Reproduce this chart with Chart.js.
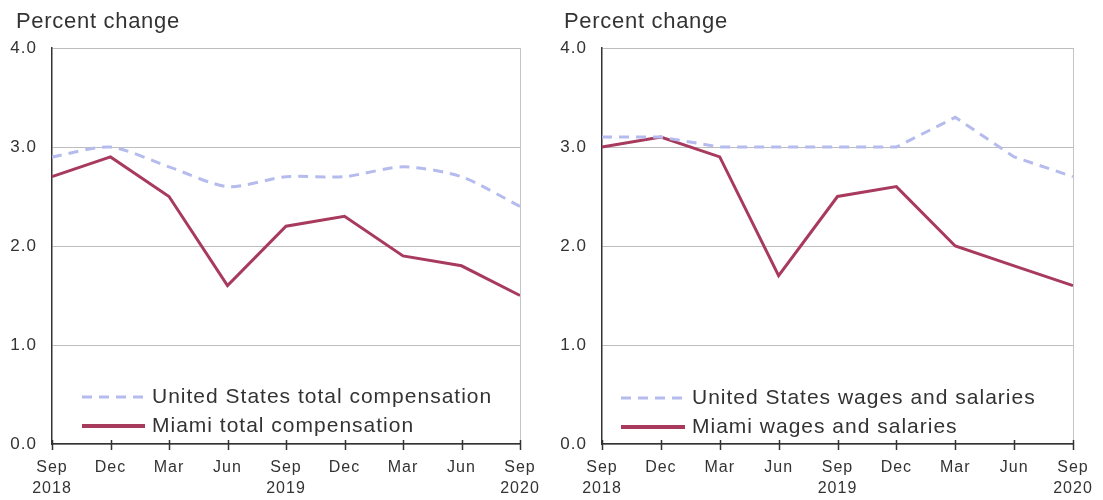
<!DOCTYPE html>
<html>
<head>
<meta charset="utf-8">
<script src="https://cdn.jsdelivr.net/npm/chart.js@4.4.1/dist/chart.umd.min.js"></script>
<style>
  html, body { margin: 0; padding: 0; background: #fff; }
  #wrap { position: relative; width: 1103px; height: 500px; overflow: hidden; }
  canvas { position: absolute; top: 0; }
  #c1 { left: 0; }
  #c2 { left: 550px; }
</style>
</head>
<body>
<div id="wrap">
  <canvas id="c1" width="550" height="500"></canvas>
  <canvas id="c2" width="553" height="500"></canvas>
</div>
<script>
// Quarterly 12-month percent changes, Sep 2018 – Sep 2020
const quarters = [['Sep', '2018'], 'Dec', 'Mar', 'Jun', ['Sep', '2019'], 'Dec', 'Mar', 'Jun', ['Sep', '2020']];
const usTotalComp    = [2.9, 3.0, 2.8, 2.6, 2.7, 2.7, 2.8, 2.7, 2.4];
const miamiTotalComp = [2.7, 2.9, 2.5, 1.6, 2.2, 2.3, 1.9, 1.8, 1.5];
const usWages        = [3.1, 3.1, 3.0, 3.0, 3.0, 3.0, 3.3, 2.9, 2.7];
const miamiWages     = [3.0, 3.1, 2.9, 1.7, 2.5, 2.6, 2.0, 1.8, 1.6];
const yTicks = [0, 1, 2, 3, 4];
const yTitle = 'Percent change';

const US_COLOR = '#b5bced';
const MIAMI_COLOR = '#a83a5e';
const TEXT_COLOR = '#333';
const FONT = '"Liberation Sans", Arial, sans-serif';

// Title, right frame edge, crossing x ticks and in-plot legend
const decorPlugin = {
  id: 'decor',
  beforeDraw(chart) {
    // slightly open tracking for the axis labels
    chart.ctx.letterSpacing = '1px';
  },
  afterDraw(chart, args, opts) {
    const ctx = chart.ctx;
    const area = chart.chartArea;
    const xs = chart.scales.x;
    ctx.save();

    // right edge of the frame
    ctx.strokeStyle = '#c4c4c4';
    ctx.lineWidth = 1;
    ctx.beginPath();
    ctx.moveTo(area.right + 0.5, area.top);
    ctx.lineTo(area.right + 0.5, area.bottom);
    ctx.stroke();

    // tick marks crossing the category axis
    ctx.strokeStyle = TEXT_COLOR;
    ctx.lineWidth = 1.5;
    xs.ticks.forEach((t, i) => {
      const px = Math.round(xs.getPixelForTick(i)) + 0.5;
      ctx.beginPath();
      ctx.moveTo(px, area.bottom - 4);
      ctx.lineTo(px, area.bottom + 6);
      ctx.stroke();
    });

    // axis title
    ctx.fillStyle = TEXT_COLOR;
    ctx.letterSpacing = '0.7px';
    ctx.font = '22px ' + FONT;
    ctx.textBaseline = 'alphabetic';
    ctx.textAlign = 'left';
    ctx.fillText(opts.title, opts.titleX, 28);

    // legend
    ctx.letterSpacing = '1px';
    ctx.font = '21px ' + FONT;
    ctx.textBaseline = 'middle';
    chart.data.datasets.forEach((ds, i) => {
      const y = opts.legendY[i];
      ctx.strokeStyle = ds.borderColor;
      ctx.lineWidth = ds.borderDash ? 3 : 4;
      ctx.setLineDash(ds.borderDash || []);
      ctx.beginPath();
      ctx.moveTo(opts.legendX0, y);
      ctx.lineTo(opts.legendX1, y);
      ctx.stroke();
      ctx.setLineDash([]);
      ctx.fillStyle = TEXT_COLOR;
      ctx.fillText(ds.label, opts.legendX1 + 7, y);
    });
    ctx.restore();
  }
};

function makeChart(canvasId, usData, miamiData, usLabel, miamiLabel, cfg) {
  return new Chart(document.getElementById(canvasId), {
    type: 'line',
    data: {
      labels: quarters,
      datasets: [
        {
          label: usLabel,
          data: usData,
          borderColor: US_COLOR,
          borderWidth: 3,
          borderDash: [10, 7],
          tension: cfg.usTension,
          pointRadius: 0,
          fill: false
        },
        {
          label: miamiLabel,
          data: miamiData,
          borderColor: MIAMI_COLOR,
          borderWidth: 3,
          tension: 0,
          pointRadius: 0,
          fill: false
        }
      ]
    },
    options: {
      responsive: false,
      animation: false,
      layout: { padding: { left: 0, right: cfg.padRight, top: 48, bottom: 0 } },
      plugins: {
        legend: { display: false },
        tooltip: { enabled: false },
        decor: {
          title: yTitle,
          titleX: cfg.titleX,
          legendX0: cfg.legendX0,
          legendX1: cfg.legendX1,
          legendY: cfg.legendY
        }
      },
      scales: {
        x: {
          offset: false,
          grid: { display: false },
          border: { display: true, color: TEXT_COLOR, width: 1.5 },
          ticks: {
            color: TEXT_COLOR,
            font: { family: FONT, size: 16, lineHeight: 1.3 },
            padding: 5,
            maxRotation: 0,
            autoSkip: false
          },
          afterFit(scale) { scale.height = 56; }
        },
        y: {
          min: 0,
          max: 4,
          afterBuildTicks(scale) { scale.ticks = yTicks.map(v => ({ value: v })); },
          grid: { color: '#bdbdbd', lineWidth: 1, tickLength: 0, drawTicks: false },
          border: { display: true, color: TEXT_COLOR, width: 1.5 },
          ticks: {
            color: TEXT_COLOR,
            font: { family: FONT, size: 17 },
            padding: 15,
            callback: v => Number(v).toFixed(1)
          },
          afterFit(scale) { scale.width = 52; }
        }
      }
    },
    plugins: [decorPlugin]
  });
}

makeChart('c1', usTotalComp, miamiTotalComp,
  'United States total compensation', 'Miami total compensation',
  { padRight: 30, usTension: 0.25, titleX: 16, legendX0: 82, legendX1: 145, legendY: [397, 426] });

makeChart('c2', usWages, miamiWages,
  'United States wages and salaries', 'Miami wages and salaries',
  { padRight: 30, usTension: 0, titleX: 14, legendX0: 71, legendX1: 135, legendY: [398, 427] });
</script>
</body>
</html>
